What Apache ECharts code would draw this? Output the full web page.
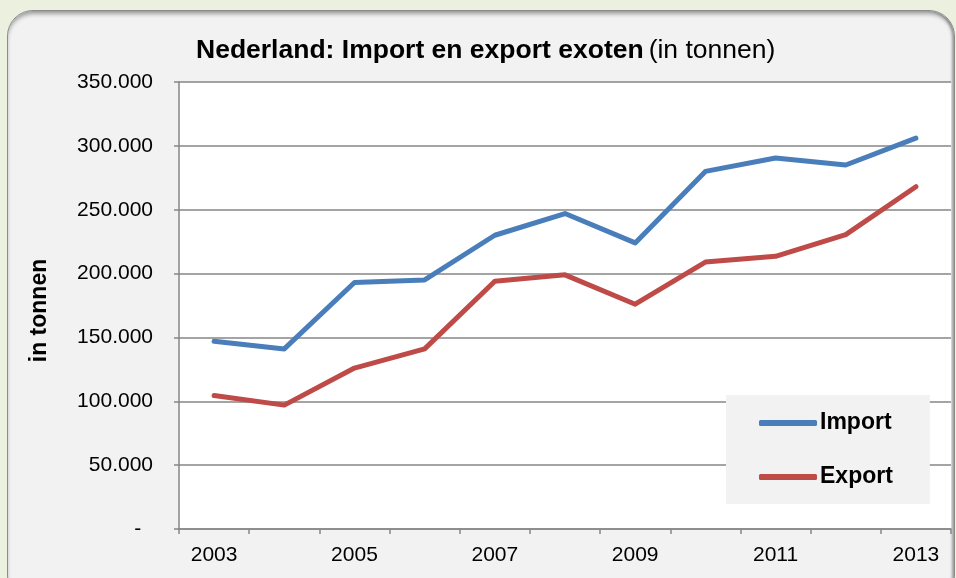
<!DOCTYPE html>
<html>
<head>
<meta charset="utf-8">
<script src="https://cdn.jsdelivr.net/npm/echarts@6/dist/echarts.min.js"></script>
<style>
  html, body { margin: 0; padding: 0; background: #ebf1de; }
  #wrap { position: relative; width: 956px; height: 578px; overflow: hidden; }
  #panel {
    position: absolute; left: 7px; top: 10px; width: 946px; height: 590px;
    background: #f2f2f2; border-radius: 26px;
    border: 1px solid #8c8c8c;
    box-shadow: inset 0 4px 4px -1px rgba(0,0,0,0.35), inset -3px 0 3px -1px rgba(0,0,0,0.3);
  }
  #chart { position: absolute; left: 0; top: 0; width: 956px; height: 578px; }
</style>
</head>
<body>
<div id="wrap">
  <div id="panel"></div>
  <div id="chart"></div>
</div>
<script>
  // jaren en waarden (in tonnen)
  var years = ['2003', '2004', '2005', '2006', '2007', '2008', '2009', '2010', '2011', '2012', '2013'];
  var importData = [147000, 141000, 193000, 195000, 230000, 247000, 224000, 280000, 290500, 285000, 306000];
  var exportData = [104500, 97000, 126000, 141000, 194000, 199000, 176000, 209000, 213500, 230500, 268000];

  function fmt(v) {
    if (v === 0) return '-  ';
    var s = String(v);
    return s.replace(/\B(?=(\d{3})+(?!\d))/g, '.');
  }

  var chart = echarts.init(document.getElementById('chart'));
  chart.setOption({
    animation: false,
    title: {
      text: '{b|Nederland: Import en export exoten} {n|(in tonnen)}',
      left: 191,
      top: 32,
      textStyle: {
        fontWeight: 'normal',
        rich: {
          b: { fontFamily: 'Liberation Sans', fontSize: 26.5, fontWeight: 'bold', color: '#000' },
          n: { fontFamily: 'Liberation Sans', fontSize: 26.5, fontWeight: 'normal', color: '#000' }
        }
      }
    },
    legend: {
      orient: 'vertical',
      left: 726,
      top: 395,
      backgroundColor: '#f2f2f2',
      padding: [15, 37, 14, 33],
      itemGap: 28,
      itemWidth: 58,
      itemHeight: 6,
      icon: 'roundRect',
      textStyle: { fontFamily: 'Liberation Sans', fontSize: 23, fontWeight: 'bold', color: '#000', lineHeight: 26, padding: [0, 0, 0, -2] },
      data: ['Import', 'Export']
    },
    grid: {
      left: 179, right: 5, top: 82, bottom: 49,
      show: true, backgroundColor: '#ffffff', borderWidth: 0
    },
    xAxis: {
      type: 'category',
      data: years,
      boundaryGap: true,
      axisLine: { lineStyle: { color: '#868686', width: 1.5 } },
      axisTick: { show: true, length: 5, interval: 0, lineStyle: { color: '#868686', width: 1.5 } },
      axisLabel: { interval: 1, margin: 16, fontFamily: 'Liberation Sans', fontSize: 21, color: '#000' }
    },
    yAxis: {
      type: 'value',
      min: 0, max: 350000, interval: 50000,
      name: 'in tonnen',
      nameLocation: 'middle',
      nameGap: 128,
      nameTextStyle: { fontFamily: 'Liberation Sans', fontSize: 23, fontWeight: 'bold', color: '#000', padding: [0, 0, 0, -10] },
      axisLine: { show: true, lineStyle: { color: '#868686', width: 1.5 } },
      axisTick: { show: true, length: 5, lineStyle: { color: '#868686', width: 1.5 } },
      splitLine: { lineStyle: { color: '#868686', width: 1.5 } },
      axisLabel: { margin: 26, fontFamily: 'Liberation Sans', fontSize: 21, color: '#000', formatter: fmt }
    },
    series: [
      {
        name: 'Import', type: 'line', data: importData, symbol: 'none',
        itemStyle: { color: '#4a7ebb' },
        lineStyle: { color: '#4a7ebb', width: 5, cap: 'round', join: 'round' }
      },
      {
        name: 'Export', type: 'line', data: exportData, symbol: 'none',
        itemStyle: { color: '#be4b48' },
        lineStyle: { color: '#be4b48', width: 5, cap: 'round', join: 'round' }
      }
    ]
  });
</script>
</body>
</html>
